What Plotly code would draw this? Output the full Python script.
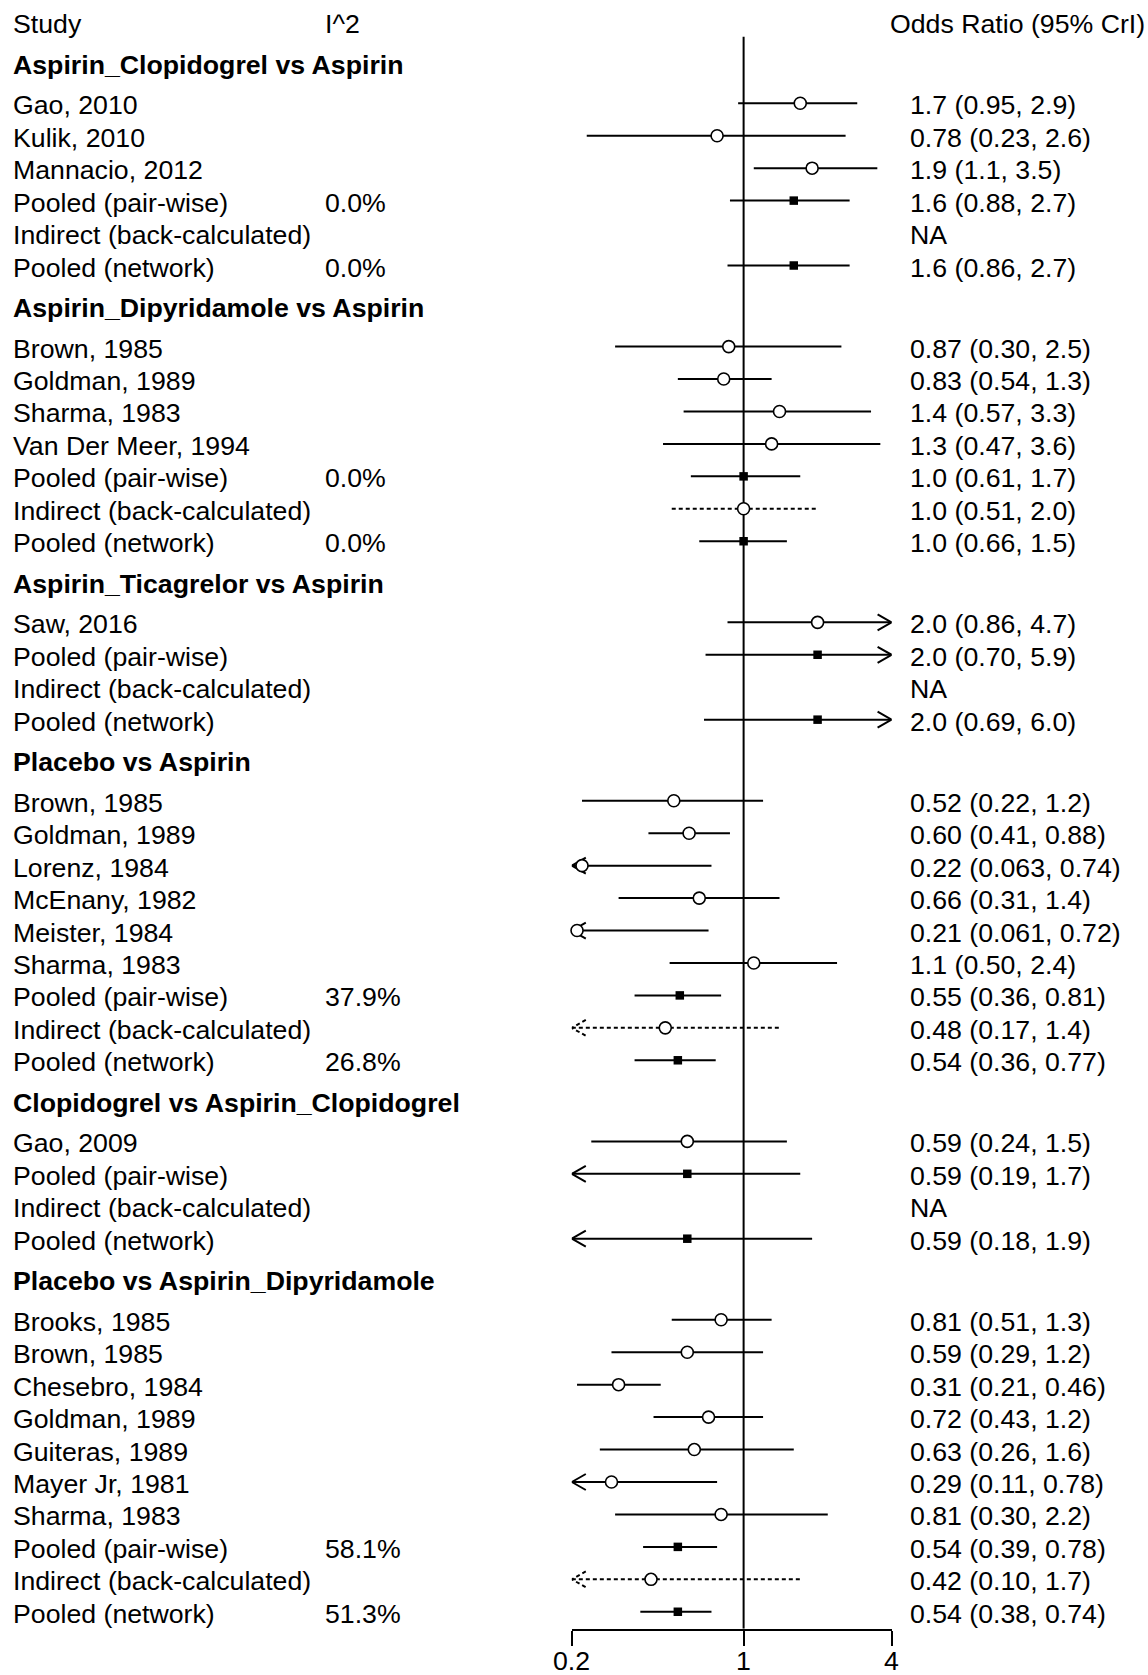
import math
import plotly.graph_objects as go

# ---------------- data ----------------
group_titles = [
    "Aspirin_Clopidogrel vs Aspirin",
    "Aspirin_Dipyridamole vs Aspirin",
    "Aspirin_Ticagrelor vs Aspirin",
    "Placebo vs Aspirin",
    "Clopidogrel vs Aspirin_Clopidogrel",
    "Placebo vs Aspirin_Dipyridamole",
]
row_group = [0] * 6 + [1] * 7 + [2] * 4 + [3] * 9 + [4] * 4 + [5] * 10
row_label = [
    "Gao, 2010", "Kulik, 2010", "Mannacio, 2012",
    "Pooled (pair-wise)", "Indirect (back-calculated)", "Pooled (network)",
    "Brown, 1985", "Goldman, 1989", "Sharma, 1983", "Van Der Meer, 1994",
    "Pooled (pair-wise)", "Indirect (back-calculated)", "Pooled (network)",
    "Saw, 2016",
    "Pooled (pair-wise)", "Indirect (back-calculated)", "Pooled (network)",
    "Brown, 1985", "Goldman, 1989", "Lorenz, 1984", "McEnany, 1982",
    "Meister, 1984", "Sharma, 1983",
    "Pooled (pair-wise)", "Indirect (back-calculated)", "Pooled (network)",
    "Gao, 2009",
    "Pooled (pair-wise)", "Indirect (back-calculated)", "Pooled (network)",
    "Brooks, 1985", "Brown, 1985", "Chesebro, 1984", "Goldman, 1989",
    "Guiteras, 1989", "Mayer Jr, 1981", "Sharma, 1983",
    "Pooled (pair-wise)", "Indirect (back-calculated)", "Pooled (network)",
]
row_kind = (["study"] * 3 + ["pw", "ind", "net"]
            + ["study"] * 4 + ["pw", "ind", "net"]
            + ["study"] * 1 + ["pw", "ind", "net"]
            + ["study"] * 6 + ["pw", "ind", "net"]
            + ["study"] * 1 + ["pw", "ind", "net"]
            + ["study"] * 7 + ["pw", "ind", "net"])
row_est = [1.7, 0.78, 1.9, 1.6, None, 1.6,
           0.87, 0.83, 1.4, 1.3, 1.0, 1.0, 1.0,
           2.0, 2.0, None, 2.0,
           0.52, 0.60, 0.22, 0.66, 0.21, 1.1, 0.55, 0.48, 0.54,
           0.59, 0.59, None, 0.59,
           0.81, 0.59, 0.31, 0.72, 0.63, 0.29, 0.81, 0.54, 0.42, 0.54]
row_lo = [0.95, 0.23, 1.1, 0.88, None, 0.86,
          0.30, 0.54, 0.57, 0.47, 0.61, 0.51, 0.66,
          0.86, 0.70, None, 0.69,
          0.22, 0.41, 0.063, 0.31, 0.061, 0.50, 0.36, 0.17, 0.36,
          0.24, 0.19, None, 0.18,
          0.51, 0.29, 0.21, 0.43, 0.26, 0.11, 0.30, 0.39, 0.10, 0.38]
row_hi = [2.9, 2.6, 3.5, 2.7, None, 2.7,
          2.5, 1.3, 3.3, 3.6, 1.7, 2.0, 1.5,
          4.7, 5.9, None, 6.0,
          1.2, 0.88, 0.74, 1.4, 0.72, 2.4, 0.81, 1.4, 0.77,
          1.5, 1.7, None, 1.9,
          1.3, 1.2, 0.46, 1.2, 1.6, 0.78, 2.2, 0.78, 1.7, 0.74]
row_i2 = [None, None, None, 0.0, None, 0.0,
          None, None, None, None, 0.0, None, 0.0,
          None, None, None, None,
          None, None, None, None, None, None, 37.9, None, 26.8,
          None, None, None, None,
          None, None, None, None, None, None, None, 58.1, None, 51.3]
tick_vals = [0.2, 1, 4]
tick_text = ["0.2", "1", "4"]
x_min, x_max = 0.2, 4.0

# ---------------- layout constants (pixels) ----------------
W, H = 1148, 1675
ROW_PX = 32.44          # pixels per row unit
TOP_PX = 22.2           # pixel of row position 0
AXIS_PX = 1628.7        # pixel of the x axis line
TICKLAB_PX = 1658.5     # pixel of tick label anchor
X_LEFT_PX, X_RIGHT_PX = 571.7, 891.7
FS = 26.7
FONT = "Liberation Sans, Arial, sans-serif"
TEXT_SHIFT = -2

y_top = -TOP_PX / ROW_PX
y_bot = (AXIS_PX - TOP_PX) / ROW_PX
PX_PER_DEC = (X_RIGHT_PX - X_LEFT_PX) / (math.log10(x_max) - math.log10(x_min))
AL, AH = 14.0, 8.0      # arrowhead length / half height in px

# row positions
row_pos, title_pos = [], []
p, g_prev = 0.0, None
for g in row_group:
    if g != g_prev:
        p += 1.25
        title_pos.append(p)
        p += 1.25
        g_prev = g
    else:
        p += 1.0
    row_pos.append(p)

solid_x, solid_y, dot_x, dot_y = [], [], [], []
ah_sx, ah_sy, ah_dx, ah_dy = [], [], [], []
circ_x, circ_y, sq_x, sq_y = [], [], [], []
fac = 10 ** (AL / PX_PER_DEC)
dy = AH / ROW_PX
for i, y in enumerate(row_pos):
    if row_est[i] is None:
        continue
    lo, hi = max(row_lo[i], x_min), min(row_hi[i], x_max)
    dotted = row_kind[i] == "ind"
    lx, ly = (dot_x, dot_y) if dotted else (solid_x, solid_y)
    ax_, ay_ = (ah_dx, ah_dy) if dotted else (ah_sx, ah_sy)
    lx += [lo, hi, None]
    ly += [y, y, None]
    if row_lo[i] < x_min:
        ax_ += [x_min * fac, x_min, x_min * fac, None]
        ay_ += [y - dy, y, y + dy, None]
    if row_hi[i] > x_max:
        ax_ += [x_max / fac, x_max, x_max / fac, None]
        ay_ += [y - dy, y, y + dy, None]
    if row_kind[i] in ("pw", "net"):
        sq_x.append(row_est[i]); sq_y.append(y)
    else:
        circ_x.append(row_est[i]); circ_y.append(y)

fig = go.Figure()
line_solid = dict(color="black", width=2)
line_dot = dict(color="black", width=2, dash="4px,3px")
fig.add_trace(go.Scatter(x=solid_x, y=solid_y, mode="lines", line=line_solid,
                         cliponaxis=False, hoverinfo="skip"))
fig.add_trace(go.Scatter(x=dot_x, y=dot_y, mode="lines", line=line_dot,
                         cliponaxis=False, hoverinfo="skip"))
fig.add_trace(go.Scatter(x=ah_sx, y=ah_sy, mode="lines", line=line_solid,
                         cliponaxis=False, hoverinfo="skip"))
fig.add_trace(go.Scatter(x=ah_dx, y=ah_dy, mode="lines", line=line_dot,
                         cliponaxis=False, hoverinfo="skip"))
fig.add_trace(go.Scatter(x=sq_x, y=sq_y, mode="markers", cliponaxis=False,
                         marker=dict(symbol="square", size=8.5, color="black")))
fig.add_trace(go.Scatter(x=circ_x, y=circ_y, mode="markers", cliponaxis=False,
                         marker=dict(symbol="circle", size=12, color="white",
                                     line=dict(color="black", width=1.6))))

# reference line at 1
fig.add_shape(type="line", xref="x", yref="y", x0=1, x1=1, y0=0.45, y1=y_bot,
              line=dict(color="black", width=2), layer="below")

# text
ann = []
def txt(x_px, y, s, bold=False):
    ann.append(dict(xref="paper", yref="y", x=x_px / W, y=y, xanchor="left",
                    yanchor="middle", showarrow=False, yshift=TEXT_SHIFT,
                    text=("<b>%s</b>" % s) if bold else s,
                    font=dict(family=FONT, size=FS, color="black")))

LEFT_PX, I2_PX, HEAD_R_PX, VAL_PX = 10.5, 322.5, 888, 908
txt(LEFT_PX, 0, "Study")
txt(I2_PX, 0, "I^2")
txt(HEAD_R_PX, 0, "Odds Ratio (95% CrI)")
for t, y in zip(group_titles, title_pos):
    txt(LEFT_PX, y, t, bold=True)
for i, y in enumerate(row_pos):
    txt(LEFT_PX, y, row_label[i])
    if row_i2[i] is not None:
        txt(I2_PX, y, "%.1f%%" % row_i2[i])
    if row_est[i] is None:
        txt(VAL_PX, y, "NA")
    else:
        txt(VAL_PX, y, "{:#.2g} ({:#.2g}, {:#.2g})".format(row_est[i], row_lo[i], row_hi[i]))

# tick labels
for v, s in zip(tick_vals, tick_text):
    ann.append(dict(xref="x", yref="paper", x=math.log10(v), y=(H - TICKLAB_PX) / H,
                    xanchor="center", yanchor="middle", showarrow=False,
                    yshift=TEXT_SHIFT, text=s,
                    font=dict(family=FONT, size=FS, color="black")))

eps = 0.0005
fig.update_layout(
    template="none",
    width=W, height=H, margin=dict(l=0, r=0, t=0, b=0, pad=0), autosize=False,
    paper_bgcolor="white", plot_bgcolor="white", showlegend=False,
    font=dict(family=FONT, size=FS, color="black"),
    annotations=ann,
    xaxis=dict(type="log", domain=[X_LEFT_PX / W, X_RIGHT_PX / W],
               range=[math.log10(x_min) - eps, math.log10(x_max) + eps],
               tickmode="array", tickvals=tick_vals, showticklabels=False,
               showline=True, linecolor="black", linewidth=2,
               ticks="outside", ticklen=15, tickwidth=2, tickcolor="black",
               showgrid=False, zeroline=False, fixedrange=True, automargin=False),
    yaxis=dict(domain=[(H - AXIS_PX) / H, 1], range=[y_bot, y_top],
               visible=False, showgrid=False, zeroline=False, fixedrange=True,
               automargin=False),
)
fig.write_html("out.html", config={"displayModeBar": False},
               post_script="document.body.style.margin='0';document.body.style.overflow='hidden';")
